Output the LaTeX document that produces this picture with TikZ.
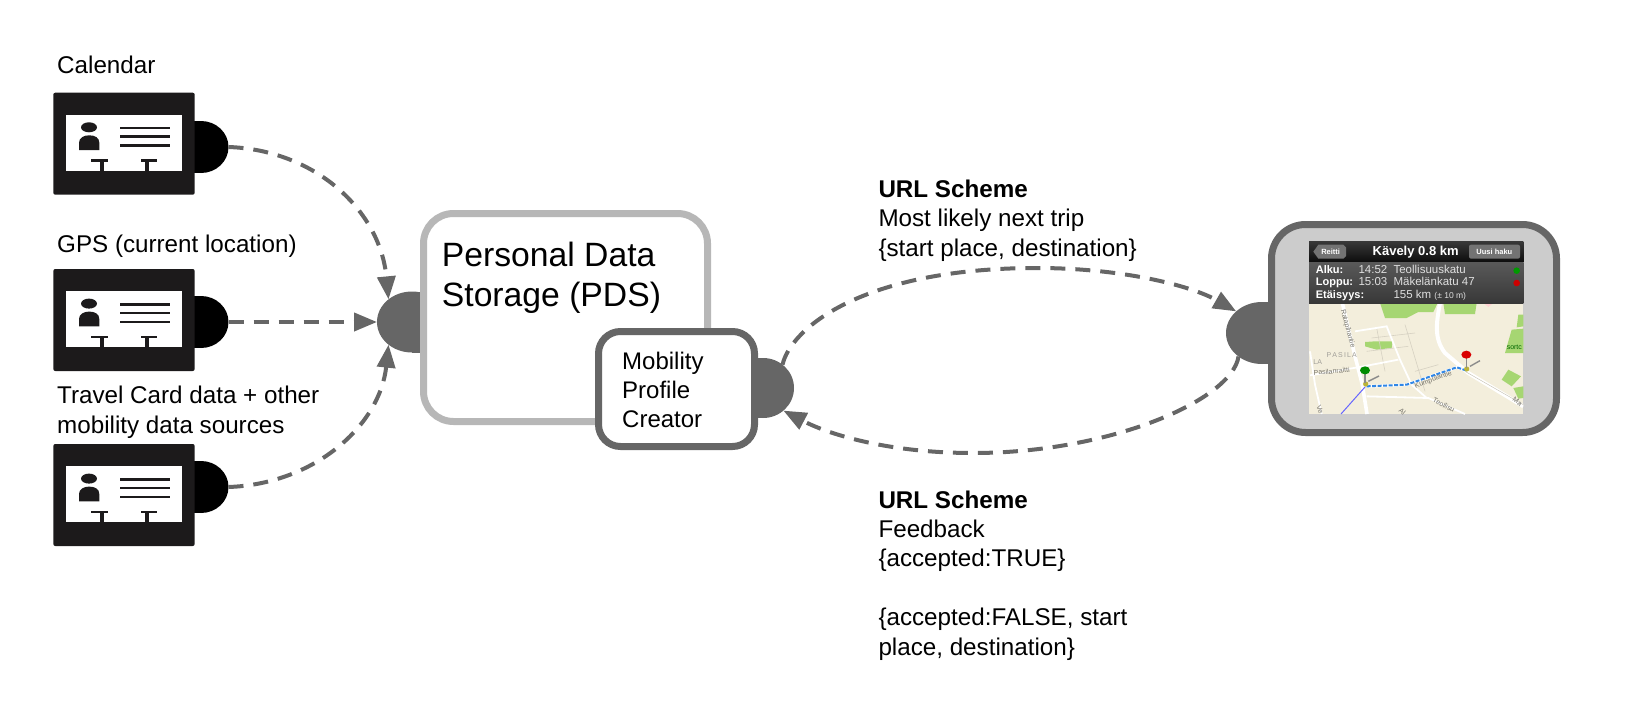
\documentclass[tikz,border=0pt]{standalone}
\usepackage{fontspec}
\setmainfont{Liberation Sans}
\usetikzlibrary{arrows.meta,shapes.geometric}
\definecolor{linegray}{HTML}{666666}
\definecolor{pdsgray}{HTML}{B7B7B7}
\definecolor{phonefill}{HTML}{CCCCCC}
\definecolor{cardink}{HTML}{1C1A1B}
\definecolor{mapbg}{HTML}{F3EEDC}
\definecolor{mapgreen}{HTML}{A6D672}
\definecolor{maptext}{HTML}{77756C}
\definecolor{routeblue}{HTML}{2F86E6}
\newcommand{\px}[2]{\fontsize{#1}{#2}\selectfont}
\tikzset{
  label24/.style={anchor=base west,inner sep=0pt,align=left,font=\px{24.2}{29.4}},
  port/.style={ellipse,fill=linegray,inner sep=0pt,outer sep=0pt},
  blackport/.style={port,fill=black,minimum width=55pt,minimum height=52pt},
  cardbody/.style={rectangle,fill=cardink,rounded corners=2pt,minimum width=141.4pt,minimum height=102pt,inner sep=0pt},
  flow/.style={draw=linegray,line width=4pt,dash pattern=on 15pt off 10pt,-{Triangle[length=23pt,width=18pt]}},
  maplabel/.style={inner sep=0pt,text=maptext,font=\px{7}{8}},
  infolabel/.style={anchor=base west,inner sep=0pt,text=white,font=\px{11}{13}\bfseries},
  infovalue/.style={anchor=base west,inner sep=0pt,text=black!12,font=\px{11.5}{13}},
  cardpic/.pic={
    \node[cardbody] (-body) at (0,0) {};
    \fill[white] (-58,-29) rectangle (58,27.3);
    \fill[cardink] (-35,-16.4) ellipse [x radius=8pt,y radius=5pt];
    \fill[cardink] (-45,6.3) -- (-45,-1) .. controls (-45,-6) and (-40,-8.4) .. (-34.8,-8.4) .. controls (-29,-8.4) and (-24.7,-6) .. (-24.7,-1) -- (-24.7,6.3) -- cycle;
    \fill[cardink] (-4,-17) rectangle (46,-14.4);
    \fill[cardink] (-4,-8.3) rectangle (46,-5.7);
    \fill[cardink] (-4,0.7) rectangle (46,3.3);
    \fill[cardink] (-32.7,15.6) rectangle (-16.3,18.3);
    \fill[cardink] (-24.3,15.6) rectangle (-20.3,27.3);
    \fill[cardink] (17,15.6) rectangle (33.3,18.3);
    \fill[cardink] (21,15.6) rectangle (25,27.3);
  }
}
\begin{document}
\begin{tikzpicture}[x=1pt,y=-1pt]
\useasboundingbox (0,0) rectangle (1652,720);

% source ports and cards
\node[blackport] (p1) at (201,147) {};
\node[blackport] (p2) at (201,322) {};
\node[blackport] (p3) at (201,487) {};
\foreach \q in {p1,p2,p3} \fill[black] (\q.north) -- ++(-8,0) |- (\q.south) -- cycle;
\pic (c1) at (124,143.7) {cardpic};
\pic (c2) at (124,320) {cardpic};
\pic (c3) at (124,495) {cardpic};

% source labels
\node[label24] (calendar) at (57,73.3) {Calendar};
\node[label24] (gps) at (57,252.3) {GPS (current location)};
\node[label24] (travel) at (57,433.3) {Travel Card data + other\\mobility data sources};

% PDS
\node[port,minimum width=70pt,minimum height=61pt] (pp) at (412,322) {};
\fill[linegray] (pp.north) -- ++(12,0) |- (pp.south) -- cycle;
\node[rectangle,draw=pdsgray,fill=white,line width=7pt,rounded corners=30pt,minimum width=284pt,minimum height=208pt] (pds) at (565.5,317.5) {};
\node[anchor=base west,inner sep=0pt,align=left,font=\px{33.7}{40}] (pdstext) at (441.7,306.7) {Personal Data\\Storage (PDS)};

% Mobility Profile Creator
\node[port,minimum width=62pt,minimum height=60pt] (mp) at (763,388) {};
\fill[linegray] (mp.north) -- ++(-8,0) |- (mp.south) -- cycle;
\node[rectangle,draw=linegray,fill=white,line width=7pt,rounded corners=22pt,minimum width=156pt,minimum height=115pt] (mpc) at (676.5,389) {};
\node[anchor=base west,inner sep=0pt,align=left,font=\px{24}{29}] (mpctext) at (622,427) {Mobility\\Profile\\Creator};

% phone
\node[port,minimum width=72pt,minimum height=62pt] (app) at (1262,333) {};
\fill[linegray] (app.north) -- ++(10,0) |- (app.south) -- cycle;
\node[rectangle,draw=linegray,fill=phonefill,line width=7pt,rounded corners=34pt,minimum width=285pt,minimum height=208pt] (phone) at (1414,328.5) {};

% phone screen, in the pixel frame of the screen crop
\begin{scope}[shift={(1305,238)},x=0.33333pt,y=-0.33333pt]
  \begin{scope}
    \clip (12,195) rectangle (655,528);
    \fill[mapbg] (12,195) rectangle (655,528);
    \fill[mapgreen] (225,195) -- (398,195) -- (385,222) -- (340,222) -- (305,240) -- (240,240) -- cycle;
    \fill[mapgreen] (415,195) -- (515,195) -- (510,228) -- (420,228) -- cycle;
    \fill[pink!70] (535,195) -- (565,195) -- (550,207) -- cycle;
    \fill[mapgreen] (640,230) -- (655,230) -- (655,265) -- (635,268) -- cycle;
    \fill[mapgreen] (620,275) -- (655,272) -- (655,345) -- (600,345) -- cycle;
    \fill[mapgreen] (180,312) -- (210,310) -- (262,310) -- (260,330) -- (215,335) -- (180,325) -- cycle;
    \fill[mapgreen] (610,395) -- (648,415) -- (620,445) -- (590,425) -- cycle;
    \fill[mapgreen] (625,450) -- (655,445) -- (655,480) -- (640,482) -- cycle;
    % thin streets
    \draw[black!12!mapbg,line width=0.6pt] (200,300) -- (330,285) (185,340) -- (310,325) (215,270) -- (240,400) (300,260) -- (360,460) (330,400) -- (400,380);
    % white roads
    \draw[white,line width=1.8pt] (150,280) -- (245,265) -- (285,365) -- (320,440) -- (365,480);
    \draw[white,line width=1.8pt] (15,412) -- (170,386) -- (280,365);
    \draw[white,line width=1.8pt] (185,475) -- (370,480) -- (480,528);
    \draw[white,line width=1.8pt] (15,340) -- (30,440) -- (50,528);
    \draw[white,line width=3.6pt] (112,195) -- (150,355) -- (172,440) -- (186,528);
    \draw[white,line width=4pt] (405,195) .. controls (395,250) and (385,300) .. (420,345) -- (490,405) -- (655,505);
    \draw[black!20!mapbg,line width=0.4pt] (480,400) -- (655,500);
    % route
    \draw[white,line width=2.8pt] (185,445) -- (305,440) -- (455,388) -- (485,398);
    \draw[routeblue,line width=2pt,dash pattern=on 4pt off 1.5pt] (185,445) -- (305,440) -- (455,388) -- (485,398);
    \draw[blue!60!white,line width=1pt] (180,447) -- (108,528);
    % street names
    \node[maplabel,rotate=-75] (st1) at (128,272) {Ratapihantie};
    \node[maplabel,text=maptext!70] (st2) at (110,351) {P\,A\,S\,I\,L\,A};
    \node[maplabel,text=maptext!70] (st3) at (38,371) {LA};
    \node[maplabel,rotate=5] (st4) at (80,400) {Pasilanraitti};
    \node[maplabel,rotate=20] (st5) at (385,425) {Kumpulantie};
    \node[maplabel,rotate=-27,anchor=west] (st6) at (385,485) {Teollisu};
    \node[maplabel,rotate=-35,anchor=west] (st7) at (625,482) {Ma};
    \node[maplabel,rotate=-70] (st8) at (45,515) {Ve};
    \node[maplabel,rotate=-40] (st9) at (292,522) {Al};
    \node[maplabel,text=green!40!black] (st10) at (628,328) {sortc};
    % pins
    \draw[black!45,line width=1.4pt] (190,430) -- (222,414);
    \draw[black!45,line width=1.4pt] (495,385) -- (525,368);
    \fill[yellow!70!black] (182,438) circle [radius=2.6pt];
    \fill[yellow!70!black] (485,393) circle [radius=2.6pt];
    \draw[black!45,line width=1.3pt] (180,400) -- (180,436);
    \draw[black!45,line width=1.3pt] (484,352) -- (484,390);
    \fill[green!55!black] (180,397) ellipse [x radius=5pt,y radius=4pt];
    \fill[red!85!black] (484,350) ellipse [x radius=5pt,y radius=4pt];
  \end{scope}
  % header bar
  \shade[top color=black!78,bottom color=black!95] (12,10) rectangle (655,72);
  \shade[top color=black!65,bottom color=black!78] (12,72) rectangle (655,195);
  \fill[black!55] (40,20) -- (115,20) -- (123,28) -- (123,54) -- (115,62) -- (40,62) -- (25,41) -- cycle;
  \fill[black!55,rounded corners=2pt] (492,20) rectangle (645,62);
  \node[inner sep=0pt,text=white,font=\px{7.5}{9}\bfseries] (reitti) at (77,41) {Reitti};
  \node[inner sep=0pt,text=white,font=\px{7.5}{9}\bfseries] (uusi) at (568,41) {Uusi haku};
  \node[anchor=base,inner sep=0pt,text=white,font=\px{13}{15}\bfseries] (title) at (332,51) {Kävely 0.8 km};
  \node[infolabel] (alku) at (32,105) {Alku:};
  \node[infovalue] (alkut) at (160,105) {14:52};
  \node[infovalue] (alkup) at (265,105) {Teollisuuskatu};
  \node[infolabel] (loppu) at (32,143) {Loppu:};
  \node[infovalue] (loppt) at (160,143) {15:03};
  \node[infovalue] (loppp) at (265,143) {Mäkelänkatu 47};
  \node[infolabel] (etai) at (32,182) {Etäisyys:};
  \node[infovalue] (etaip) at (265,182) {155 km \px{8.5}{10}(± 10 m)};
  \fill[green!60!black] (635,98) circle [radius=3.3pt];
  \fill[red!80!black] (635,135) circle [radius=3.3pt];
\end{scope}

% connectors
\draw[flow] (p1.east) .. controls (315,150) and (380,210) .. (pp.136);
\draw[flow] (p2.east) -- (pp.west);
\draw[flow] (p3.east) .. controls (315,484) and (380,425) .. (pp.224);
\coordinate (peak) at (1037,268);
\coordinate (low) at (973,453);
\draw[flow] (mp.50) .. controls (790,330) and (860,268) .. (peak) .. controls (1120,268) and (1190,285) .. (app.140);
\draw[flow] (app.225) .. controls (1232,400) and (1110,453) .. (low) .. controls (890,453) and (830,435) .. (mp.-48);

% connector labels
\node[label24] (urlup) at (878.3,256) {\textbf{URL Scheme}\\Most likely next trip\\\{start place, destination\}};
\node[label24] (urldown) at (878.3,655) {\textbf{URL Scheme}\\Feedback\\\{accepted:TRUE\}\\[29.4pt]\{accepted:FALSE, start\\place, destination\}};
\end{tikzpicture}
\end{document}
